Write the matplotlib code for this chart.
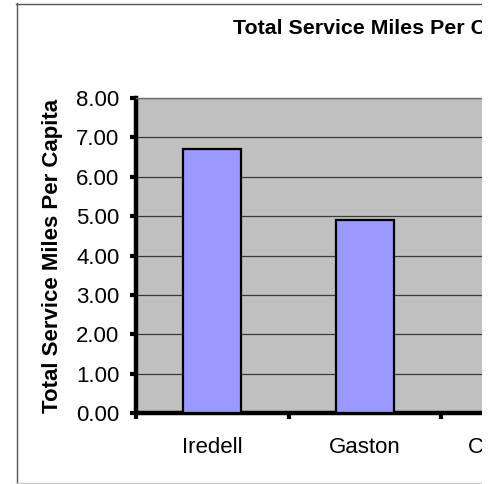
import numpy as np
import matplotlib
matplotlib.use("Agg")
import matplotlib.pyplot as plt
from matplotlib.patches import Rectangle
from matplotlib.lines import Line2D

plt.rcParams['font.family'] = ['Liberation Sans', 'DejaVu Sans']

# data (Cleveland is cut off in the picture, value estimated)
categories = ['Iredell', 'Gaston', 'Cleveland']
miles_per_capita = [6.70, 4.90, 4.00]
y_ticks = [0, 1, 2, 3, 4, 5, 6, 7, 8]

W, H = 492, 484
fig = plt.figure(figsize=(W / 100, H / 100), dpi=100)

def fx(px):
    return px / W

def fy(py):
    return 1 - py / H

# plot area: 136..(beyond right edge) x 98..413 px
cat_w = 152.5
left_px, top_px, bottom_px = 136, 98, 413
ax = fig.add_axes([fx(left_px), fy(bottom_px), len(categories) * cat_w / W,
                   (bottom_px - top_px) / H])
ax.set_facecolor('#C0C0C0')

x = np.arange(len(categories))
ax.bar(x, miles_per_capita, width=0.38, color='#9999FF', edgecolor='black',
       linewidth=1.6, zorder=3)

ax.set_xlim(-0.5, len(categories) - 0.5)
ax.set_ylim(0, 8)
ax.set_yticks(y_ticks)
ax.set_yticklabels(['%.2f' % v for v in y_ticks], fontsize=16)
ax.yaxis.grid(True, color='#3a3a3a', linewidth=0.9, zorder=1)
ax.set_axisbelow(True)

# category boundaries get the tick marks, names sit in the middle
ax.set_xticks(np.arange(len(categories) + 1) - 0.5)
ax.set_xticklabels([''] * (len(categories) + 1))
ax.set_xticks(x, minor=True)
ax.set_xticklabels(categories, minor=True, fontsize=16)
ax.tick_params(axis='x', which='minor', length=0, pad=17)
ax.tick_params(axis='both', which='major', direction='out', length=4,
               width=3, color='black')
ax.tick_params(axis='y', pad=8)

for side in ['left', 'bottom']:
    ax.spines[side].set_linewidth(3.2)
    ax.spines[side].set_color('black')
ax.spines['top'].set_color('#707070')
ax.spines['top'].set_linewidth(1.0)
ax.spines['right'].set_visible(False)

ax.set_ylabel('Total Service Miles Per Capita', fontsize=16, fontweight='bold')
ax.yaxis.set_label_coords((63 - left_px) / (len(categories) * cat_w), 0.5)

fig.text(fx(233), fy(29), 'Total Service Miles Per Capita', fontsize=15.4,
         fontweight='bold', ha='left', va='center')

# chart area border
fig.add_artist(Line2D([fx(16.5), fx(16.5)], [fy(3), fy(483)], color='#555555',
                      linewidth=1.0))
fig.add_artist(Line2D([fx(16), fx(482)], [fy(3.5), fy(3.5)], color='#555555',
                      linewidth=1.0))
fig.add_artist(Line2D([fx(16), fx(482)], [fy(482.5), fy(482.5)],
                      color='#cccccc', linewidth=1.0))

# the picture is cut off at the right
fig.add_artist(Rectangle((fx(482), 0), 1 - fx(482), 1, facecolor='white',
                         edgecolor='none', zorder=10))

fig.savefig('out.png', dpi=100)
